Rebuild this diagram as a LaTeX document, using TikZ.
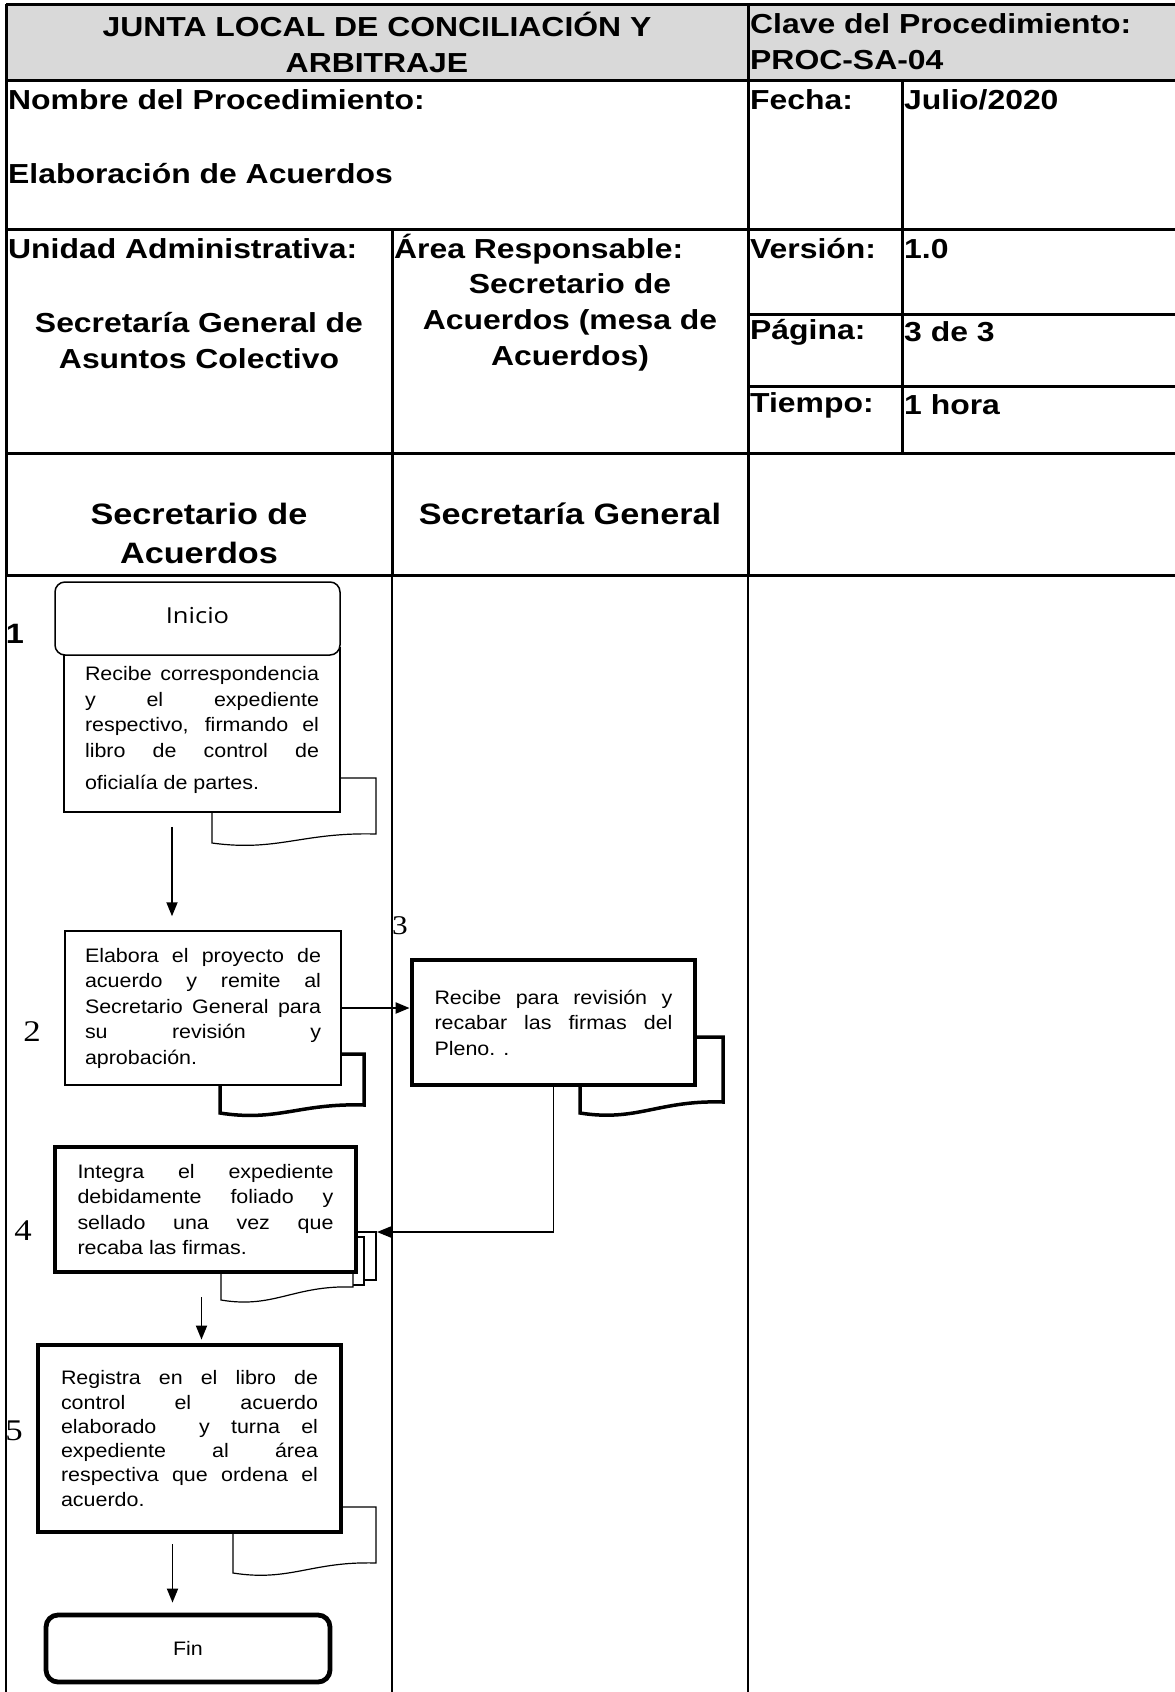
\documentclass[tikz,border=0pt]{standalone}
\usepackage{fontspec}
\setmainfont{Liberation Sans}[FakeStretch=1.16]
\newfontfamily\boxfont{Liberation Sans}[FakeStretch=1.1]
\newfontfamily\numfont{Liberation Serif}[FakeStretch=1.16]
\newfontfamily\startfont{Open Sans}[FakeStretch=1.16]
\usepackage{tikz}
\usetikzlibrary{arrows.meta, positioning, calc}
\definecolor{headgray}{HTML}{D9D9D9}

% document sheet: x1, top, x2, right bottom, left bottom, line width
\newcommand{\docpage}[6]{%
  \draw[line width=#6, fill=white] (#1,#2) -- (#3,#2) -- (#3,#4)
    .. controls ({#1+0.55*(#3-#1)},{#4-2}) and ({#1+0.4*(#3-#1)},{#5+9}) .. (#1,#5) -- cycle;
}

\begin{document}
\begin{tikzpicture}[x=1pt, y=-1pt,
    grid/.style={line width=3pt},
    lane/.style={line width=1.6pt},
    cell/.style={inner sep=0pt, anchor=west, font={\fontsize{27.5}{36}\selectfont\bfseries}},
    ccell/.style={cell, anchor=center, align=center},
    stepbox/.style={draw, fill=white, line width=1.5pt, align=justify,
        font={\boxfont\fontsize{19.5}{25.5}\selectfont}},
    thickbox/.style={stepbox, line width=4.8pt},
    flow/.style={line width=1.8pt, -{Triangle[length=14pt,width=11pt]}}]

    \useasboundingbox (0,0) rectangle (1175,1692);

    % =================================================================
    % LAYER 0: THE FORM HEADER
    % =================================================================
    \fill[headgray] (6,4) rectangle (1175,80);
    \draw[grid] (6,4) -- (1175,4);
    \draw[grid] (6,80) -- (1175,80);
    \draw[grid] (6,229) -- (1175,229);
    \draw[grid] (6,453) -- (1175,453);
    \draw[grid] (6,575) -- (1175,575);
    \draw[grid] (748,314) -- (1175,314);
    \draw[grid] (748,386) -- (1175,386);
    \draw[grid] (6,4) -- (6,575);
    \draw[grid] (748,4) -- (748,575);
    \draw[grid] (902,80) -- (902,453);
    \draw[grid] (392,229) -- (392,575);

    % swimlanes
    \draw[lane] (6,575) -- (6,1692);
    \draw[lane] (392,575) -- (392,1692);
    \draw[lane] (748,575) -- (748,1692);

    \node[ccell] (junta) at (377,42) {JUNTA LOCAL DE CONCILIACIÓN Y\\ARBITRAJE};
    \node[cell, align=left] (clave) at (750,42) {Clave del Procedimiento:\\PROC-SA-04};
    \node[cell] (nombre) at (8,100) {Nombre del Procedimiento:};
    \node[cell] (proc) at (8,174) {Elaboración de Acuerdos};
    \node[cell] (fecha) at (750,100) {Fecha:};
    \node[cell] (fechav) at (904,100) {Julio/2020};
    \node[cell] (unidad) at (8,249) {Unidad Administrativa:};
    \node[ccell] (unidadv) at (199,341) {Secretaría General de\\Asuntos Colectivo};
    \node[cell] (area) at (394,249) {Área Responsable:};
    \node[ccell] (areav) at (570,322) {Secretario de\\Acuerdos (mesa de\\Acuerdos)};
    \node[cell] (version) at (750,249) {Versión:};
    \node[cell] (versionv) at (904,249) {1.0};
    \node[cell] (pagina) at (750,332) {Página:};
    \node[cell] (paginav) at (904,332) {3 de 3};
    \node[cell] (tiempo) at (750,405) {Tiempo:};
    \node[cell] (tiempov) at (904,405) {1 hora};

    \node[ccell, font={\fontsize{29.5}{39}\selectfont\bfseries}] (laneA) at (199,533) {Secretario de\\Acuerdos};
    \node[ccell, font={\fontsize{29.5}{39}\selectfont\bfseries}] (laneB) at (570,514) {Secretaría General};

    % =================================================================
    % LAYER 1: THE DOCUMENT SHEETS
    % =================================================================
    \docpage{212}{778}{376}{834}{843}{1.2pt}
    \docpage{220}{1054}{364}{1105}{1113}{3.5pt}
    \docpage{580}{1037}{723}{1102}{1113}{3.5pt}
    \draw[line width=1.2pt, fill=white] (300,1232) rectangle (376,1280);
    \draw[line width=1.2pt, fill=white] (300,1237) rectangle (364,1285);
    \docpage{221}{1240}{353}{1287}{1300}{1.2pt}
    \docpage{233}{1507}{376}{1563}{1573}{1.2pt}

    % =================================================================
    % LAYER 2: THE STEPS
    % =================================================================
    \node[stepbox, minimum width=276pt, minimum height=164pt, text width=234pt] (recibe) at (202,730)
        {Recibe correspondencia\linebreak y el expediente\linebreak respectivo, firmando el\linebreak
         libro de control de\linebreak\rule{0pt}{31pt}oficialía de partes.};
    \node[draw, fill=white, line width=1.5pt, rounded corners=10pt, minimum width=285pt, minimum height=73pt,
        font={\startfont\fontsize{22}{26}\selectfont}] (inicio) at (197.5,618.5) {Inicio\vphantom{pq}};

    \node[stepbox, minimum width=276pt, minimum height=154pt, text width=236pt] (elabora) at (203,1008)
        {Elabora el proyecto de\linebreak acuerdo y remite al\linebreak Secretario General para\linebreak
         su revisión y\linebreak aprobación.};
    \node[thickbox, minimum width=283pt, minimum height=125pt, text width=238pt] (revisa) at (553.5,1022.5)
        {Recibe para revisión y\linebreak recabar las firmas del\linebreak Pleno. .\par\vspace*{19pt}};
    \node[thickbox, minimum width=301pt, minimum height=125pt, text width=256pt] (integra) at (205.5,1209.5)
        {Integra el expediente\linebreak debidamente foliado y\linebreak sellado una vez que\linebreak
         recaba las firmas.};
    \node[thickbox, minimum width=303pt, minimum height=187pt, text width=257pt,
        font={\boxfont\fontsize{19.5}{24.3}\selectfont}] (registra) at (189.5,1438.5)
        {Registra en el libro de\linebreak control el acuerdo\linebreak elaborado \ y turna el\linebreak
         expediente al área\linebreak respectiva que ordena el\linebreak acuerdo.\par\vspace*{10pt}};
    \node[draw, line width=4.8pt, rounded corners=12pt, minimum width=284pt, minimum height=67pt,
        font={\boxfont\fontsize{19.5}{22}\selectfont}] (fin) at (188,1648.5) {Fin};

    % step numbers
    \node[inner sep=0pt, font={\fontsize{28}{30}\selectfont\bfseries}] (num1) at (15,634) {1};
    \node[inner sep=0pt, font={\numfont\fontsize{30}{32}\selectfont}] (num2) at (32,1032) {2};
    \node[inner sep=0pt, font={\numfont\fontsize{27}{30}\selectfont}] (num3) at (400,926) {3};
    \node[inner sep=0pt, font={\numfont\fontsize{30}{32}\selectfont}] (num4) at (23,1231) {4};
    \node[inner sep=0pt, font={\numfont\fontsize{30}{32}\selectfont}] (num5) at (14,1431) {5};

    % =================================================================
    % LAYER 3: THE CONNECTORS
    % =================================================================
    \coordinate (stackin) at (377,1232);
    \draw[flow] ([shift={(-30,14)}]recibe.south) -- ([shift={(-31,-14)}]elabora.north);
    \draw[flow, line width=2.2pt] (elabora.east) -- (elabora.east -| revisa.west);
    \draw[flow, line width=1.5pt] (revisa.south) |- (stackin);
    \draw[flow] ([shift={(-4,23)}]integra.south) -- ([shift={(-4,-3)}]integra.south |- registra.north);
    \draw[flow] ([shift={(-17,10)}]registra.south) -- ([shift={(-17,-10)}]registra.south |- fin.north);

\end{tikzpicture}
\end{document}
